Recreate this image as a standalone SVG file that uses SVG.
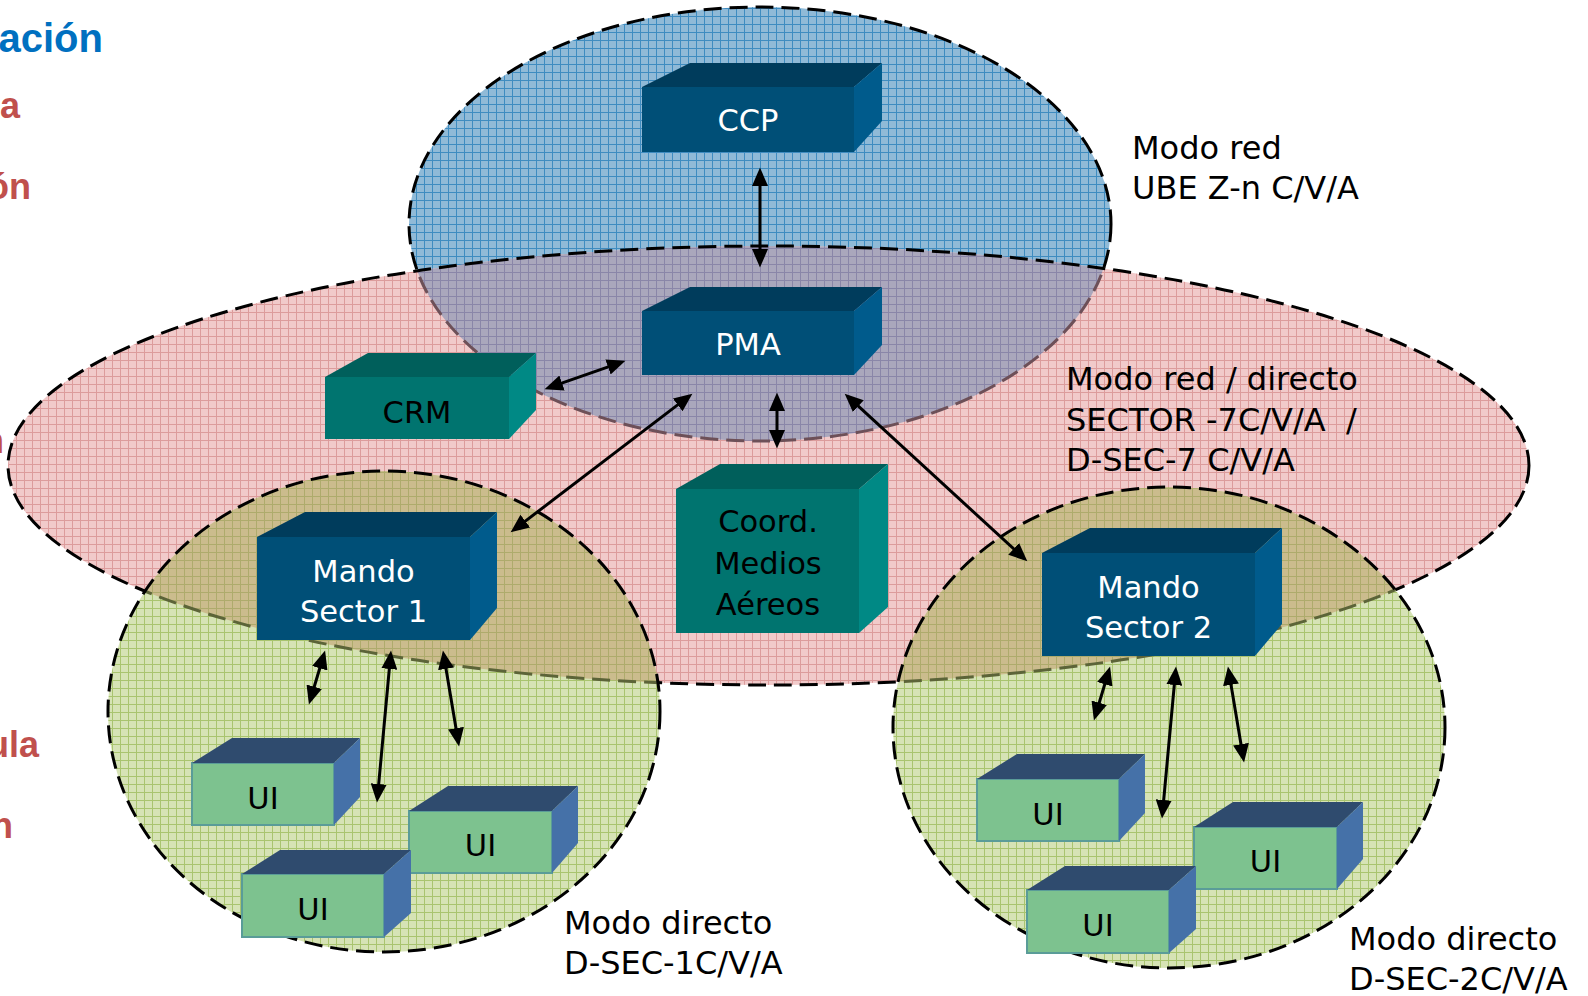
<svg xmlns="http://www.w3.org/2000/svg" width="1588" height="996" viewBox="0 0 1588 996">
<style>
.lbl{font-family:"DejaVu Sans","Liberation Sans",sans-serif;font-size:32px;fill:#000}
.bx{font-family:"DejaVu Sans","Liberation Sans",sans-serif;font-size:30.5px;text-anchor:middle}
.w{fill:#fff}.k{fill:#000}
.bf{fill:#004f77}.bt{fill:#003c5c}.bs{fill:#005b8c}
.tf{fill:#00746f}.tt{fill:#005f5b}.ts{fill:#008985}
.uf{fill:#7dc28f;stroke:#5a9c98;stroke-width:2}.ut{fill:#2f4b6e}.us{fill:#4571a8}
.dash{fill:none;stroke:#000;stroke-width:3;stroke-dasharray:18 8}
.arr{stroke:#000;stroke-width:3;fill:none;marker-start:url(#ah);marker-end:url(#ah)}
.bg{font-family:"Liberation Sans",Arial,sans-serif;font-weight:bold;text-anchor:end}
</style>
<defs>
<pattern id="pBlue" width="8" height="8" patternUnits="userSpaceOnUse"><rect width="8" height="8" fill="#90bad7"/><path d="M0 0.5H8M0.5 0V8" stroke="#3f8cc0" stroke-width="1"/></pattern>
<pattern id="pPink" width="8" height="8" patternUnits="userSpaceOnUse"><rect width="8" height="8" fill="#f1caca"/><path d="M0 0.5H8M0.5 0V8" stroke="#dc9c9c" stroke-width="1"/></pattern>
<pattern id="pMauve" width="8" height="8" patternUnits="userSpaceOnUse"><rect width="8" height="8" fill="#aaa7bc"/><path d="M0 0.5H8M0.5 0V8" stroke="#8a86a8" stroke-width="1"/></pattern>
<pattern id="pGreen" width="8" height="8" patternUnits="userSpaceOnUse"><rect width="8" height="8" fill="#d6e3b5"/><path d="M0 0.5H8M0.5 0V8" stroke="#a9c46f" stroke-width="1"/></pattern>
<pattern id="pTan" width="8" height="8" patternUnits="userSpaceOnUse"><rect width="8" height="8" fill="#cbbc8d"/><path d="M0 0.5H8M0.5 0V8" stroke="#aeab6c" stroke-width="1"/></pattern>
<clipPath id="cPink"><ellipse cx="768.5" cy="465.5" rx="760.5" ry="219.5"/></clipPath>
<clipPath id="cGL"><ellipse cx="384" cy="711.5" rx="276" ry="240.5"/></clipPath>
<clipPath id="cGR"><ellipse cx="1169" cy="727.5" rx="276" ry="240.5"/></clipPath>
<marker id="ah" markerUnits="userSpaceOnUse" markerWidth="19" markerHeight="16" refX="14" refY="8" orient="auto-start-reverse" viewBox="0 0 19 16"><path d="M0 0L18.5 8L0 16Z" fill="#000"/></marker>
</defs>
<rect width="1588" height="996" fill="#fff"/>

<g id="slide-text">
<text class="bg" x="103" y="52" font-size="40" fill="#0070c0">ación</text>
<text class="bg" x="20" y="118" font-size="36" fill="#c0504d">a</text>
<text class="bg" x="31" y="199" font-size="36" fill="#c0504d">ón</text>
<text class="bg" x="4" y="453" font-size="36" fill="#c0504d">n</text>
<text class="bg" x="39" y="757" font-size="36" fill="#c0504d">ula</text>
<text class="bg" x="13" y="838" font-size="36" fill="#c0504d">n</text>
</g>

<g id="zones">
<ellipse cx="760" cy="224" rx="351" ry="217" fill="url(#pBlue)"/>
<ellipse class="dash" cx="760" cy="224" rx="351" ry="217"/>
<ellipse cx="768.5" cy="465.5" rx="760.5" ry="219.5" fill="url(#pPink)"/>
<ellipse cx="760" cy="224" rx="351" ry="217" fill="url(#pMauve)" clip-path="url(#cPink)"/>
<ellipse class="dash" cx="760" cy="224" rx="351" ry="217" clip-path="url(#cPink)" style="stroke:#6d5058"/>
<ellipse class="dash" cx="768.5" cy="465.5" rx="760.5" ry="219.5"/>
<ellipse cx="384" cy="711.5" rx="276" ry="240.5" fill="url(#pGreen)"/>
<ellipse cx="1169" cy="727.5" rx="276" ry="240.5" fill="url(#pGreen)"/>
<ellipse cx="384" cy="711.5" rx="276" ry="240.5" fill="url(#pTan)" clip-path="url(#cPink)"/>
<ellipse cx="1169" cy="727.5" rx="276" ry="240.5" fill="url(#pTan)" clip-path="url(#cPink)"/>
<ellipse class="dash" cx="768.5" cy="465.5" rx="760.5" ry="219.5" clip-path="url(#cGL)" style="stroke:#5c6438"/>
<ellipse class="dash" cx="768.5" cy="465.5" rx="760.5" ry="219.5" clip-path="url(#cGR)" style="stroke:#5c6438"/>
<ellipse class="dash" cx="384" cy="711.5" rx="276" ry="240.5"/>
<ellipse class="dash" cx="1169" cy="727.5" rx="276" ry="240.5"/>
</g>

<g id="zone-labels">
<text class="lbl" x="1132" y="159">Modo red</text>
<text class="lbl" x="1132" y="199">UBE Z-n C/V/A</text>
<text class="lbl" x="1066" y="390">Modo red / directo</text>
<text class="lbl" x="1066" y="431" style="white-space:pre">SECTOR -7C/V/A  /</text>
<text class="lbl" x="1066" y="471">D-SEC-7 C/V/A</text>
<text class="lbl" x="564" y="934">Modo directo</text>
<text class="lbl" x="564" y="974">D-SEC-1C/V/A</text>
<text class="lbl" x="1349" y="950">Modo directo</text>
<text class="lbl" x="1349" y="990">D-SEC-2C/V/A</text>
</g>

<g id="ccp">
<path class="bf" d="M642 87H854V152H642Z"/><path class="bt" d="M642 87L690 63H882L854 87Z"/><path class="bs" d="M854 87L882 63V121L854 152Z"/>
<text class="bx w" x="748" y="131">CCP</text>
</g>
<g id="pma">
<path class="bf" d="M642 311H854V375H642Z"/><path class="bt" d="M642 311L690 287H882L854 311Z"/><path class="bs" d="M854 311L882 287V345L854 375Z"/>
<text class="bx w" x="748" y="355">PMA</text>
</g>
<g id="crm">
<path class="tf" d="M325 377H509V439H325Z"/><path class="tt" d="M325 377L368 353H536L509 377Z"/><path class="ts" d="M509 377L536 353V410L509 439Z"/>
<text class="bx k" x="417" y="423">CRM</text>
</g>
<g id="coord">
<path class="tf" d="M676 489H859V633H676Z"/><path class="tt" d="M676 489L720 464H888L859 489Z"/><path class="ts" d="M859 489L888 464V607L859 633Z"/>
<text class="bx k" x="768" y="532">Coord.</text>
<text class="bx k" x="768" y="574">Medios</text>
<text class="bx k" x="768" y="615">Aéreos</text>
</g>
<g id="mando1">
<path class="bf" d="M257 537H470V640H257Z"/><path class="bt" d="M257 537L305 512H497L470 537Z"/><path class="bs" d="M470 537L497 512V608L470 640Z"/>
<text class="bx w" x="363.5" y="582">Mando</text>
<text class="bx w" x="363.5" y="622">Sector 1</text>
</g>
<g id="mando2">
<path class="bf" d="M1042 553H1255V656H1042Z"/><path class="bt" d="M1042 553L1090 528H1282L1255 553Z"/><path class="bs" d="M1255 553L1282 528V624L1255 656Z"/>
<text class="bx w" x="1148.5" y="598">Mando</text>
<text class="bx w" x="1148.5" y="638">Sector 2</text>
</g>

<g id="ui1a">
<path class="uf" d="M192 763H334V825H192Z"/><path class="ut" d="M192 763L232 738H360L334 763Z"/><path class="us" d="M334 763L360 738V797L334 825Z"/>
<text class="bx k" x="263" y="809">UI</text>
</g>
<g id="ui1b">
<path class="uf" d="M409 811H552V873H409Z"/><path class="ut" d="M409 811L448 786H578L552 811Z"/><path class="us" d="M552 811L578 786V843L552 873Z"/>
<text class="bx k" x="480.5" y="856">UI</text>
</g>
<g id="ui1c">
<path class="uf" d="M242 874H384V937H242Z"/><path class="ut" d="M242 874L280 850H411L384 874Z"/><path class="us" d="M384 874L411 850V913L384 937Z"/>
<text class="bx k" x="313" y="920">UI</text>
</g>
<g id="ui2a">
<path class="uf" d="M977 779H1119V841H977Z"/><path class="ut" d="M977 779L1017 754H1145L1119 779Z"/><path class="us" d="M1119 779L1145 754V813L1119 841Z"/>
<text class="bx k" x="1048" y="825">UI</text>
</g>
<g id="ui2b">
<path class="uf" d="M1194 827H1337V889H1194Z"/><path class="ut" d="M1194 827L1233 802H1363L1337 827Z"/><path class="us" d="M1337 827L1363 802V859L1337 889Z"/>
<text class="bx k" x="1265.5" y="872">UI</text>
</g>
<g id="ui2c">
<path class="uf" d="M1027 890H1169V953H1027Z"/><path class="ut" d="M1027 890L1065 866H1196L1169 890Z"/><path class="us" d="M1169 890L1196 866V929L1169 953Z"/>
<text class="bx k" x="1098" y="936">UI</text>
</g>

<g id="connectors">
<line class="arr" x1="760" y1="172" x2="760" y2="263"/>
<line class="arr" x1="548.8" y1="387.7" x2="621.2" y2="362.3"/>
<line class="arr" x1="688.8" y1="396.4" x2="514.2" y2="529.6"/>
<line class="arr" x1="777" y1="397" x2="777" y2="444"/>
<line class="arr" x1="848" y1="396.7" x2="1024" y2="558.3"/>
<line class="arr" x1="323.8" y1="654.8" x2="310.2" y2="700.2"/>
<line class="arr" x1="390.6" y1="655" x2="377.4" y2="798"/>
<line class="arr" x1="443.7" y1="655" x2="458.3" y2="742"/>
<line class="arr" x1="1108.8" y1="670.8" x2="1095.2" y2="716.2"/>
<line class="arr" x1="1175.6" y1="671" x2="1162.4" y2="814"/>
<line class="arr" x1="1228.7" y1="671" x2="1243.3" y2="758"/>
</g>
</svg>
